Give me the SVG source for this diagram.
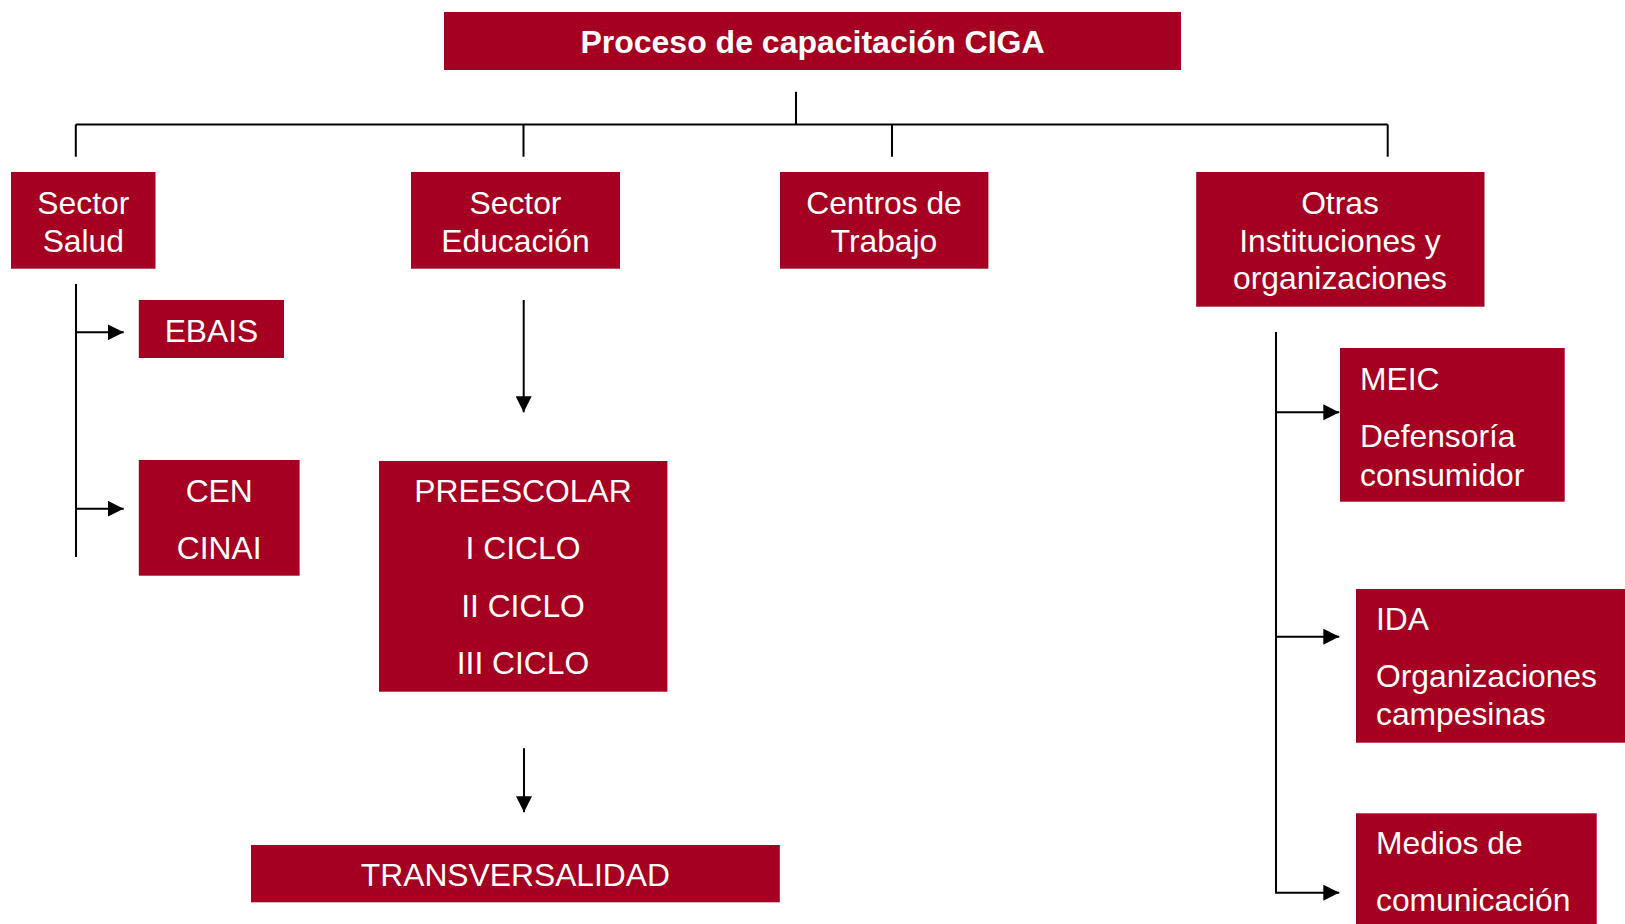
<svg xmlns="http://www.w3.org/2000/svg" width="1625" height="924" viewBox="0 0 1625 924">
<style>
.box{fill:#A50021;}
.t{fill:#ffffff;font-family:"Liberation Sans",Arial,sans-serif;font-size:31.8px;}
.c{text-anchor:middle;}
.title{font-weight:bold;font-size:32px;}
.ln{stroke:#000;stroke-width:2;fill:none;}
</style>
<defs>
<marker id="ah" markerUnits="userSpaceOnUse" markerWidth="16" markerHeight="16" refX="16" refY="8" orient="auto">
<path d="M0,0 L16,8 L0,16 z" fill="#000"/>
</marker>
</defs>
<rect width="1625" height="924" fill="#fff"/>
<g id="connectors">
<path class="ln" d="M796,91.7 V124.5"/>
<path class="ln" d="M75.8,124.5 H1387.7"/>
<path class="ln" d="M75.8,124.5 V156.7"/>
<path class="ln" d="M523.5,124.5 V156.7"/>
<path class="ln" d="M892,124.5 V156.7"/>
<path class="ln" d="M1387.7,124.5 V156.7"/>
<path class="ln" d="M76,284 V557"/>
<path class="ln" d="M76,332.3 H123.7" marker-end="url(#ah)"/>
<path class="ln" d="M76,508.7 H123.7" marker-end="url(#ah)"/>
<path class="ln" d="M523.7,300 V412.3" marker-end="url(#ah)"/>
<path class="ln" d="M524,748.3 V812.3" marker-end="url(#ah)"/>
<path class="ln" d="M1276,332 V892.7 H1339.3" marker-end="url(#ah)"/>
<path class="ln" d="M1276,412.3 H1339.3" marker-end="url(#ah)"/>
<path class="ln" d="M1276,636.7 H1339.3" marker-end="url(#ah)"/>
</g>
<g id="title">
<rect class="box" x="444" y="12" width="737" height="58"/>
<text class="t c title" x="812.5" y="53">Proceso de capacitación CIGA</text>
</g>
<g id="salud">
<rect class="box" x="11" y="172" width="144.5" height="96.7"/>
<text class="t c" x="83.3" y="214">Sector</text>
<text class="t c" x="83.3" y="251.5">Salud</text>
</g>
<g id="educacion">
<rect class="box" x="411" y="172" width="209" height="96.7"/>
<text class="t c" x="515.5" y="214">Sector</text>
<text class="t c" x="515.5" y="251.5">Educación</text>
</g>
<g id="centros">
<rect class="box" x="780" y="172" width="208.4" height="96.7"/>
<text class="t c" x="884" y="214">Centros de</text>
<text class="t c" x="884" y="251.5">Trabajo</text>
</g>
<g id="otras">
<rect class="box" x="1196.2" y="172" width="288.3" height="134.7"/>
<text class="t c" x="1340" y="214">Otras</text>
<text class="t c" x="1340" y="251.5">Instituciones y</text>
<text class="t c" x="1340" y="289">organizaciones</text>
</g>
<g id="ebais">
<rect class="box" x="138.8" y="300" width="145.2" height="58"/>
<text class="t c" x="211.5" y="341.5">EBAIS</text>
</g>
<g id="cen">
<rect class="box" x="138.8" y="460" width="160.8" height="115.7"/>
<text class="t c" x="219.2" y="502">CEN</text>
<text class="t c" x="219.2" y="558.7">CINAI</text>
</g>
<g id="ciclos">
<rect class="box" x="379" y="461" width="288.4" height="230.7"/>
<text class="t c" x="523" y="502">PREESCOLAR</text>
<text class="t c" x="523" y="558.7">I CICLO</text>
<text class="t c" x="523" y="616.5">II CICLO</text>
<text class="t c" x="523" y="674">III CICLO</text>
</g>
<g id="transversalidad">
<rect class="box" x="251" y="845" width="528.8" height="57.3"/>
<text class="t c" x="515.4" y="885.5">TRANSVERSALIDAD</text>
</g>
<g id="meic">
<rect class="box" x="1340" y="348" width="224.7" height="153.7"/>
<text class="t" x="1360" y="390">MEIC</text>
<text class="t" x="1360" y="447">Defensoría</text>
<text class="t" x="1360" y="485.7">consumidor</text>
</g>
<g id="ida">
<rect class="box" x="1356" y="589" width="275" height="153.7"/>
<text class="t" x="1376" y="630">IDA</text>
<text class="t" x="1376" y="686.7">Organizaciones</text>
<text class="t" x="1376" y="725">campesinas</text>
</g>
<g id="medios">
<rect class="box" x="1356" y="813.3" width="240.7" height="120"/>
<text class="t" x="1376" y="854">Medios de</text>
<text class="t" x="1376" y="910.7">comunicación</text>
</g>
</svg>
